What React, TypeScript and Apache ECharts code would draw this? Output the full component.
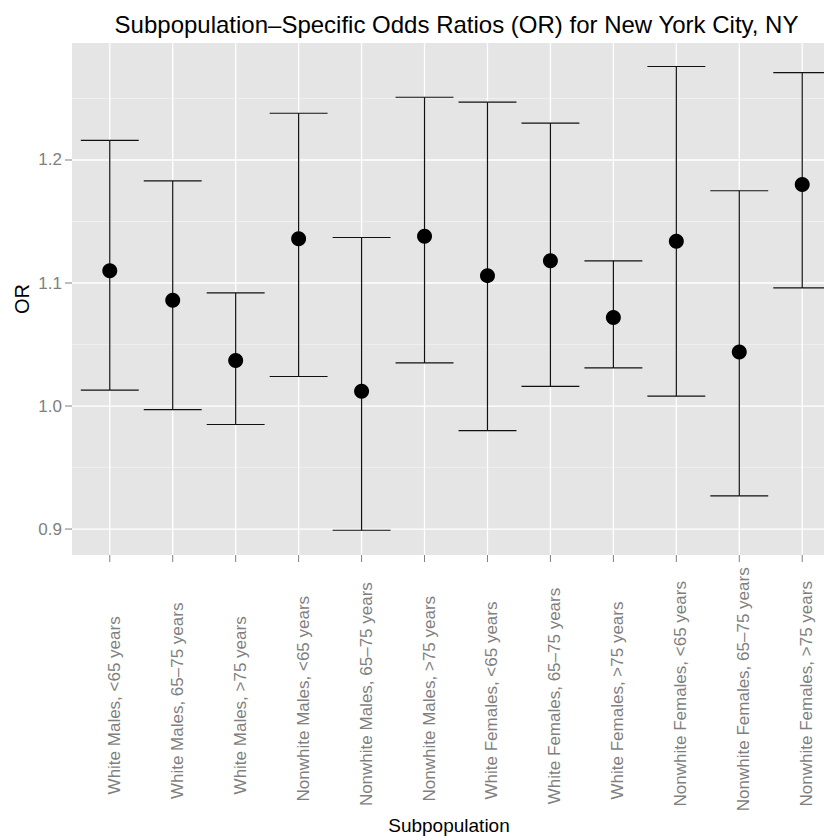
import React, { useEffect, useRef } from "react";
import * as echarts from "echarts";

const categories = [
  "White Males, <65 years",
  "White Males, 65\u201375 years",
  "White Males, >75 years",
  "Nonwhite Males, <65 years",
  "Nonwhite Males, 65\u201375 years",
  "Nonwhite Males, >75 years",
  "White Females, <65 years",
  "White Females, 65\u201375 years",
  "White Females, >75 years",
  "Nonwhite Females, <65 years",
  "Nonwhite Females, 65\u201375 years",
  "Nonwhite Females, >75 years",
];
const oddsRatio = [1.110, 1.086, 1.037, 1.136, 1.012, 1.138, 1.106, 1.118, 1.072, 1.134, 1.044, 1.180];
const lowerCI = [1.013, 0.997, 0.985, 1.024, 0.899, 1.035, 0.980, 1.016, 1.031, 1.008, 0.927, 1.096];
const upperCI = [1.216, 1.183, 1.092, 1.238, 1.137, 1.251, 1.247, 1.230, 1.118, 1.276, 1.175, 1.271];
const yMajorTicks = [0.9, 1.0, 1.1, 1.2];
const yTickLabels = ["0.9", "1.0", "1.1", "1.2"];
const yMinorTicks = [0.95, 1.05, 1.15, 1.25];

const TITLE = "Subpopulation\u2013Specific Odds Ratios (OR) for New York City, NY";
const FONT = '"Liberation Sans", Arial, Helvetica, sans-serif';
const AXIS_TEXT = "#7F7F7F";
const X_MIN = -0.6;
const X_MAX = categories.length - 1 + 0.6;
const Y_MIN = 0.8789;
const Y_MAX = 1.2951;
const LABEL_SIZE = 17;

function measure(text: string, size: number): number {
  const c = document.createElement("canvas");
  const ctx = c.getContext("2d");
  if (!ctx) return text.length * size * 0.5;
  ctx.font = `${size}px ${FONT}`;
  return ctx.measureText(text).width;
}

export default function App() {
  const ref = useRef<HTMLDivElement>(null);
  useEffect(() => {
    if (!ref.current) return;
    const chart = echarts.init(ref.current, undefined, { renderer: "svg" });
    const labelWidths = categories.map((c) => measure(c, LABEL_SIZE));

    const option: any = {
      animation: false,
      backgroundColor: "#FFFFFF",
      grid: {
        show: true,
        left: 72,
        top: 43,
        width: 768,
        height: 512,
        backgroundColor: "#E5E5E5",
        borderWidth: 0,
        containLabel: false,
      },
      xAxis: { type: "value", min: X_MIN, max: X_MAX, show: false },
      yAxis: { type: "value", min: Y_MIN, max: Y_MAX, show: false },
      graphic: [
        {
          type: "text",
          x: 456.5,
          y: 24,
          style: {
            text: TITLE,
            align: "center",
            verticalAlign: "middle",
            fontSize: 24,
            fontFamily: FONT,
            fill: "#000000",
          },
        },
        {
          type: "text",
          x: 21.5,
          y: 299,
          rotation: Math.PI / 2,
          style: {
            text: "OR",
            align: "center",
            verticalAlign: "middle",
            fontSize: 20,
            fontFamily: FONT,
            fill: "#000000",
          },
        },
        {
          type: "text",
          x: 449,
          y: 825,
          style: {
            text: "Subpopulation",
            align: "center",
            verticalAlign: "middle",
            fontSize: 19,
            fontFamily: FONT,
            fill: "#000000",
          },
        },
      ],
      series: [
        {
          name: "yminor",
          type: "custom",
          z: 1,
          silent: true,
          data: yMinorTicks.map((v) => [0, v]),
          encode: { x: 0, y: 1 },
          renderItem: (params: any, api: any) => {
            const v = api.value(1);
            const a = api.coord([X_MIN, v]);
            const b = api.coord([X_MAX, v]);
            return {
              type: "line",
              shape: { x1: a[0], y1: a[1], x2: b[0], y2: b[1] },
              style: { stroke: "#F2F2F2", lineWidth: 0.8 },
            };
          },
        },
        {
          name: "ymajor",
          type: "custom",
          z: 1,
          silent: true,
          data: yMajorTicks.map((v, i) => [0, v, i]),
          encode: { x: 0, y: 1 },
          renderItem: (params: any, api: any) => {
            const v = api.value(1);
            const idx = api.value(2);
            const a = api.coord([X_MIN, v]);
            const b = api.coord([X_MAX, v]);
            return {
              type: "group",
              children: [
                {
                  type: "line",
                  shape: { x1: a[0], y1: a[1], x2: b[0], y2: b[1] },
                  style: { stroke: "#FFFFFF", lineWidth: 1.3 },
                },
                {
                  type: "line",
                  shape: { x1: a[0] - 7, y1: a[1], x2: a[0], y2: a[1] },
                  style: { stroke: AXIS_TEXT, lineWidth: 1 },
                },
                {
                  type: "text",
                  x: a[0] - 10,
                  y: a[1],
                  style: {
                    text: yTickLabels[idx],
                    align: "right",
                    verticalAlign: "middle",
                    fontSize: LABEL_SIZE,
                    fontFamily: FONT,
                    fill: AXIS_TEXT,
                  },
                },
              ],
            };
          },
        },
        {
          name: "xgrid",
          type: "custom",
          z: 1,
          silent: true,
          data: categories.map((_, i) => [i, Y_MIN]),
          encode: { x: 0, y: 1 },
          renderItem: (params: any, api: any) => {
            const i = api.value(0);
            const bottom = api.coord([i, Y_MIN]);
            const top = api.coord([i, Y_MAX]);
            const L = labelWidths[i];
            return {
              type: "group",
              children: [
                {
                  type: "line",
                  shape: { x1: bottom[0], y1: bottom[1], x2: top[0], y2: top[1] },
                  style: { stroke: "#FFFFFF", lineWidth: 1.3 },
                },
                {
                  type: "line",
                  shape: { x1: bottom[0], y1: bottom[1], x2: bottom[0], y2: bottom[1] + 7 },
                  style: { stroke: AXIS_TEXT, lineWidth: 1 },
                },
                {
                  type: "text",
                  x: bottom[0] + 4.5,
                  y: 749 + 0.255 * L,
                  rotation: Math.PI / 2,
                  style: {
                    text: categories[i],
                    align: "left",
                    verticalAlign: "middle",
                    fontSize: LABEL_SIZE,
                    fontFamily: FONT,
                    fill: AXIS_TEXT,
                  },
                },
              ],
            };
          },
        },
        {
          name: "ci",
          type: "custom",
          z: 3,
          silent: true,
          data: categories.map((_, i) => [i, lowerCI[i], upperCI[i]]),
          encode: { x: 0, y: [1, 2] },
          renderItem: (params: any, api: any) => {
            const i = api.value(0);
            const lo = api.coord([i, api.value(1)]);
            const hi = api.coord([i, api.value(2)]);
            const xl = api.coord([i - 0.46, api.value(2)])[0];
            const xr = api.coord([i + 0.46, api.value(2)])[0];
            const st = { stroke: "#111111", lineWidth: 1.2 };
            return {
              type: "group",
              children: [
                { type: "line", shape: { x1: lo[0], y1: lo[1], x2: hi[0], y2: hi[1] }, style: st },
                { type: "line", shape: { x1: xl, y1: hi[1], x2: xr, y2: hi[1] }, style: st },
                { type: "line", shape: { x1: xl, y1: lo[1], x2: xr, y2: lo[1] }, style: st },
              ],
            };
          },
        },
        {
          name: "OR",
          type: "scatter",
          z: 4,
          symbol: "circle",
          symbolSize: 15,
          itemStyle: { color: "#000000", opacity: 1 },
          data: categories.map((_, i) => [i, oddsRatio[i]]),
        },
      ],
    };
    chart.setOption(option);
    return () => chart.dispose();
  }, []);
  return (
    <div
      style={{
        position: "absolute",
        left: 0,
        top: 0,
        width: 824,
        height: 840,
        overflow: "hidden",
      }}
    >
      <div ref={ref} style={{ width: 860, height: 840 }} />
    </div>
  );
}
